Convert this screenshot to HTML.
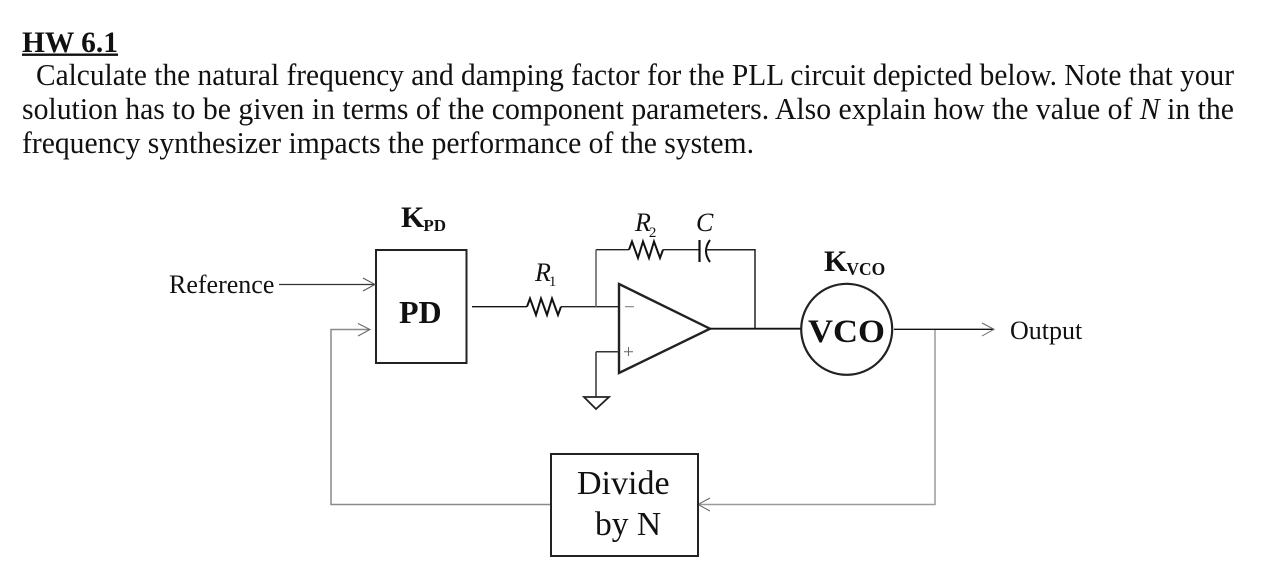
<!DOCTYPE html>
<html>
<head>
<meta charset="utf-8">
<style>
html,body{margin:0;padding:0;background:#fff;width:1261px;height:576px;overflow:hidden}
svg{display:block;filter:blur(.3px)}
text{font-family:"Liberation Serif",serif;fill:#111}
</style>
</head>
<body>
<svg width="1261" height="576" viewBox="0 0 1261 576" xmlns="http://www.w3.org/2000/svg">
<rect width="1261" height="576" fill="#fff"/>

<!-- Heading and paragraph -->
<text x="22" y="52" font-size="30" font-weight="bold" textLength="96" lengthAdjust="spacingAndGlyphs">HW 6.1</text>
<rect x="22" y="53.5" width="96" height="2.4" fill="#111"/>
<text x="36" y="85" font-size="30.5" textLength="1198" lengthAdjust="spacingAndGlyphs">Calculate the natural frequency and damping factor for the PLL circuit depicted below. Note that your</text>
<text x="22" y="119" font-size="30.5" textLength="1212" lengthAdjust="spacingAndGlyphs">solution has to be given in terms of the component parameters. Also explain how the value of <tspan font-style="italic">N</tspan> in the</text>
<text x="22" y="153" font-size="30.5" textLength="732" lengthAdjust="spacingAndGlyphs">frequency synthesizer impacts the performance of the system.</text>

<!-- PD block -->
<rect x="376" y="250" width="90.5" height="113" fill="none" stroke="#222" stroke-width="2"/>
<text x="401" y="227" font-size="30" font-weight="bold">K<tspan font-size="17" dy="4" dx="-1">PD</tspan></text>
<text x="399" y="323" font-size="32" font-weight="bold">PD</text>

<!-- Reference input -->
<text x="169" y="293" font-size="26">Reference</text>
<path d="M279 284.5H375" fill="none" stroke="#333" stroke-width="1.2"/>
<path d="M363 278L375 284.5L363 291" fill="none" stroke="#555" stroke-width="1"/>

<!-- Feedback path -->
<path d="M551 504.5H331V329.5H369" fill="none" stroke="#8a8a8a" stroke-width="1.5"/>
<path d="M358 323.5L370 329.5L358 336" fill="none" stroke="#666" stroke-width="1"/>
<path d="M935 329V504.5H699" fill="none" stroke="#9a9a9a" stroke-width="1.5"/>
<path d="M710 498L698 504.5L710 511" fill="none" stroke="#666" stroke-width="1"/>

<!-- R1 -->
<path d="M472 306.7H527" fill="none" stroke="#111" stroke-width="1.3"/>
<path d="M527 306.7L530 298.5L536 315L541 298.5L547 315L552 298.5L558 315L561 306.7" fill="none" stroke="#111" stroke-width="2"/>
<path d="M561 306.7H619" fill="none" stroke="#222" stroke-width="1.4"/>
<text x="535" y="281" font-size="26" font-style="italic">R<tspan font-size="15" dy="5" dx="-2" font-style="normal">1</tspan></text>

<!-- Op-amp -->
<path d="M619 284L710 328.7L619 373Z" fill="#fff" stroke="#222" stroke-width="2.4" stroke-linejoin="miter"/>
<path d="M625 306.7H634" stroke="#777" stroke-width="1" fill="none"/>
<path d="M624 351.7H633M628.5 347V356" stroke="#666" stroke-width="1" fill="none"/>

<!-- Feedback network -->
<path d="M596 249.7H629" fill="none" stroke="#222" stroke-width="1.4"/>
<path d="M629 249.7L632 241.5L638 258L643 241.5L649 258L654 241.5L660 258L663 249.7" fill="none" stroke="#111" stroke-width="2"/>
<path d="M663 249.7H699" fill="none" stroke="#222" stroke-width="1.4"/>
<path d="M596 306.7V249.7" fill="none" stroke="#666" stroke-width="1.6"/>
<path d="M699.5 240V262" stroke="#111" stroke-width="2.2" fill="none"/>
<path d="M710 240Q702 251 710 262" stroke="#111" stroke-width="2" fill="none"/>
<path d="M706 249.7H755V328.7" fill="none" stroke="#222" stroke-width="1.5"/>
<text x="635" y="231" font-size="26" font-style="italic">R<tspan font-size="15" dy="6" dx="-2" font-style="normal">2</tspan></text>
<text x="696" y="231" font-size="26" font-style="italic">C</text>

<!-- Ground -->
<path d="M596 351.7H619" stroke="#333" stroke-width="1.5" fill="none"/>
<path d="M596 351.7V397" stroke="#555" stroke-width="1.8" fill="none"/>
<path d="M584 397H609L596 409Z" fill="#fff" stroke="#222" stroke-width="1.8"/>

<!-- VCO -->
<path d="M710 328.7H801" stroke="#111" stroke-width="1.8" fill="none"/>
<circle cx="846.7" cy="329.3" r="45.5" fill="#fff" stroke="#222" stroke-width="2.2"/>
<text x="808" y="342" font-size="33" font-weight="bold" textLength="77" lengthAdjust="spacingAndGlyphs">VCO</text>
<text x="824" y="271" font-size="30" font-weight="bold">K<tspan font-size="17.5" dy="4" dx="-1">VCO</tspan></text>

<!-- Output -->
<path d="M894 329.3H994" stroke="#111" stroke-width="1.3" fill="none"/>
<path d="M982 323L994 329.3L982 336" fill="none" stroke="#666" stroke-width="1"/>
<text x="1010" y="339" font-size="26">Output</text>

<!-- Divider -->
<rect x="551" y="454" width="147" height="102" fill="#fff" stroke="#222" stroke-width="2"/>
<text x="577" y="494" font-size="34">Divide</text>
<text x="595" y="535" font-size="33.5">by N</text>
</svg>
</body>
</html>
